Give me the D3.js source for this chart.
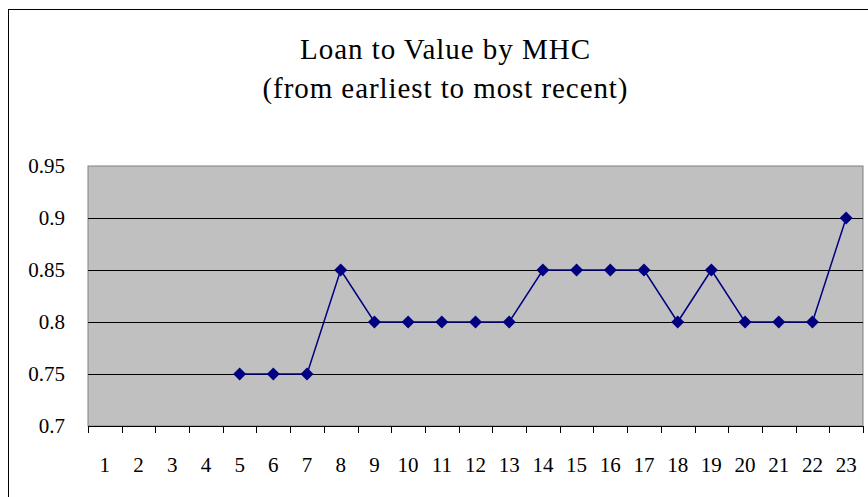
<!DOCTYPE html>
<html>
<head>
<meta charset="utf-8">
<script src="https://cdn.jsdelivr.net/npm/d3@7"></script>
<style>
  body { margin: 0; background: #fff; }
  svg { display: block; }
  svg text { font-family: "Liberation Serif", "Times New Roman", serif; }
</style>
</head>
<body>
<svg id="chart" width="868" height="497"></svg>
<script>
// categories (index of MHC, earliest to most recent)
const categories = d3.range(1, 24).map(String);
// loan to value, null where no value was drawn
const ltv = [null, null, null, null, 0.75, 0.75, 0.75, 0.85, 0.8, 0.8, 0.8, 0.8, 0.8,
  0.85, 0.85, 0.85, 0.85, 0.8, 0.85, 0.8, 0.8, 0.8, 0.9];
const yTicks = [0.7, 0.75, 0.8, 0.85, 0.9, 0.95];
const titleLines = ["Loan to Value by MHC", "(from earliest to most recent)"];

const margin = { top: 166, right: 5, bottom: 71, left: 88 },
  width = 868 - margin.left - margin.right,
  height = 497 - margin.top - margin.bottom;

const root = d3.select("#chart");

// outer chart border (right and bottom run off the picture)
root.append("rect")
  .attr("x", 8.5).attr("y", 9.5)
  .attr("width", 900).attr("height", 600)
  .attr("fill", "#fff").attr("stroke", "#000").attr("stroke-width", 1);

// title (Excel spaces its letters a little wider)
const titleWidths = [290, 365];
root.append("g")
  .selectAll("text")
  .data(titleLines)
  .join("text")
  .attr("x", 445)
  .attr("y", (d, i) => 59 + i * 39)
  .attr("text-anchor", "middle")
  .attr("font-size", 29)
  .attr("textLength", (d, i) => titleWidths[i])
  .attr("lengthAdjust", "spacing")
  .text(d => d);

const svg = root.append("g")
  .attr("transform", `translate(${margin.left}, ${margin.top})`);

const x = d3.scaleBand()
  .domain(categories)
  .range([0, width]);

const y = d3.scaleLinear()
  .domain([0.7, 0.95])
  .range([height, 0]);

// plot area
svg.append("rect")
  .attr("width", width).attr("height", height)
  .attr("fill", "#c0c0c0")
  .attr("stroke", "#808080");

// gridlines
svg.append("g")
  .selectAll("line")
  .data(yTicks.slice(1, -1))
  .join("line")
  .attr("x1", 0).attr("x2", width)
  .attr("y1", d => Math.round(y(d)) + 0.5)
  .attr("y2", d => Math.round(y(d)) + 0.5)
  .attr("stroke", "#000");

// y axis labels
svg.append("g")
  .attr("transform", "translate(-20,0)")
  .call(d3.axisLeft(y).tickValues(yTicks).tickSize(0).tickFormat(d3.format("")))
  .call(g => g.select(".domain").remove())
  .call(g => g.attr("font-family", null).attr("font-size", 21))
  .selectAll("text")
  .attr("fill", "#000");

// x axis: ticks between categories
const xAxis = svg.append("g")
  .attr("transform", `translate(0, ${height})`);
xAxis.append("line")
  .attr("x1", 0).attr("x2", width)
  .attr("y1", 0.5).attr("y2", 0.5)
  .attr("stroke", "#000");
xAxis.selectAll("line.tick")
  .data(categories.concat(["end"]))
  .join("line")
  .attr("class", "tick")
  .attr("x1", (d, i) => Math.round(i * x.step()) + 0.5)
  .attr("x2", (d, i) => Math.round(i * x.step()) + 0.5)
  .attr("y1", 0).attr("y2", 7)
  .attr("stroke", "#000");
xAxis.selectAll("text")
  .data(categories)
  .join("text")
  .attr("x", d => x(d) + x.bandwidth() / 2)
  .attr("y", 46)
  .attr("text-anchor", "middle")
  .attr("font-size", 21)
  .text(d => d);

// series
const points = categories.map((c, i) => ({ c, v: ltv[i] })).filter(d => d.v !== null);

const line = d3.line()
  .x(d => x(d.c) + x.bandwidth() / 2)
  .y(d => y(d.v));

svg.append("path")
  .datum(points)
  .attr("d", line)
  .attr("fill", "none")
  .attr("stroke", "#000080")
  .attr("stroke-width", 1.5);

svg.append("g")
  .selectAll("path")
  .data(points)
  .join("path")
  .attr("transform", d => `translate(${x(d.c) + x.bandwidth() / 2}, ${y(d.v)})`)
  .attr("d", "M0,-6.5L6.5,0L0,6.5L-6.5,0Z")
  .attr("fill", "#000080");
</script>
</body>
</html>
